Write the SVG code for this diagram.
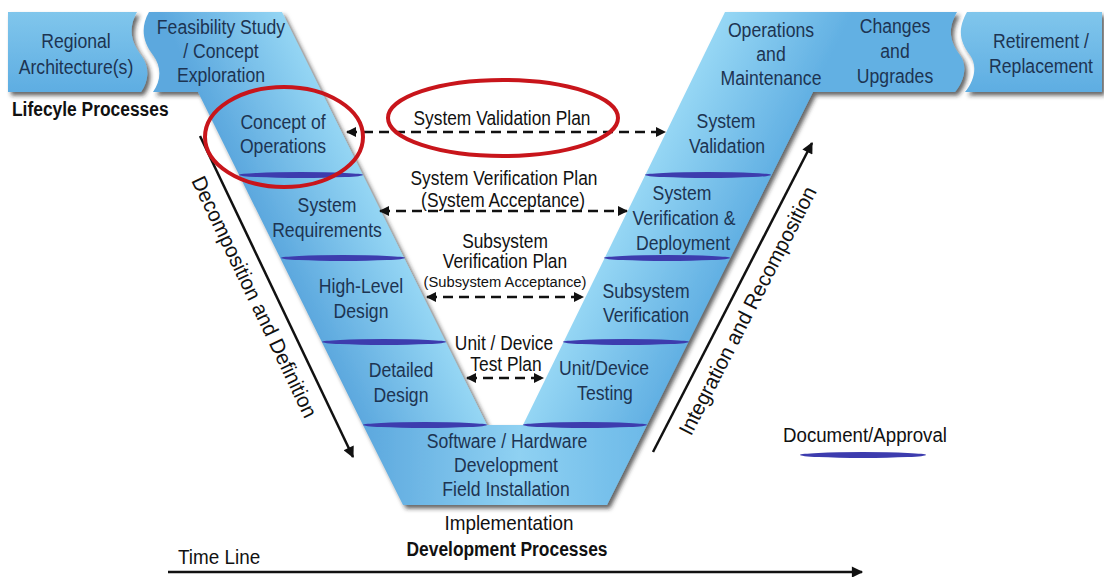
<svg xmlns="http://www.w3.org/2000/svg" width="1104" height="577" viewBox="0 0 1104 577">
<defs>
<style>
.lb{font-family:"Liberation Sans",Arial,sans-serif;font-size:21px;fill:#1d3452;text-anchor:middle}
.md{font-family:"Liberation Sans",Arial,sans-serif;font-size:19.5px;fill:#111;text-anchor:middle}
.sm{font-family:"Liberation Sans",Arial,sans-serif;font-size:15.5px;fill:#111;text-anchor:middle}
.bd{font-family:"Liberation Sans",Arial,sans-serif;font-size:20px;font-weight:bold;fill:#111}
.pl{font-family:"Liberation Sans",Arial,sans-serif;font-size:21px;fill:#111}
.doc{fill:#3d3cae}
.dash{stroke:#111;stroke-width:2.5;stroke-dasharray:10 6;fill:none;marker-start:url(#ah);marker-end:url(#ah)}
.solid{stroke:#111;stroke-width:2.5;fill:none;marker-end:url(#ah2)}
.red{fill:none;stroke:#c8151b;stroke-width:4}
</style>
<marker id="ah" viewBox="0 0 10 10" refX="9" refY="5" markerWidth="5" markerHeight="4" orient="auto-start-reverse" markerUnits="strokeWidth">
<path d="M0,0 L10,5 L0,10 Z" fill="#111"/>
</marker>
<marker id="ah2" viewBox="0 0 10 10" refX="9" refY="5" markerWidth="6.5" markerHeight="4.5" orient="auto" markerUnits="strokeWidth">
<path d="M0,0 L10,5 L0,10 Z" fill="#111"/>
</marker>
<linearGradient id="gTop" x1="0" y1="0" x2="0" y2="1">
<stop offset="0" stop-color="#80c6ec"/>
<stop offset="1" stop-color="#5eade2"/>
</linearGradient>
<linearGradient id="gL" gradientUnits="userSpaceOnUse" x1="301" y1="300" x2="401" y2="251">
<stop offset="0" stop-color="#5ca8de"/>
<stop offset="1" stop-color="#95d6f4"/>
</linearGradient>
<linearGradient id="gR" gradientUnits="userSpaceOnUse" x1="584" y1="300" x2="684" y2="350">
<stop offset="0" stop-color="#95d6f4"/>
<stop offset="1" stop-color="#62b0e3"/>
</linearGradient>
<linearGradient id="gB" gradientUnits="userSpaceOnUse" x1="363" y1="0" x2="647" y2="0">
<stop offset="0" stop-color="#5ca8de"/>
<stop offset="0.55" stop-color="#8fd1f2"/>
<stop offset="1" stop-color="#6cb9e8"/>
</linearGradient>
<filter id="sh" x="-5%" y="-5%" width="110%" height="115%">
<feDropShadow dx="3" dy="3.5" stdDeviation="2" flood-color="#222" flood-opacity="0.7"/>
</filter>
</defs>
<rect width="1104" height="577" fill="#fff"/>

<g id="v-shape" filter="url(#sh)">
<path d="M8,12 L137,12 C128,28 131,42 141,55 C150,67 149,81 141,92 L8,92 Z" fill="url(#gTop)"/>
<path d="M149,12 L282,12 L487,425 L363,425 L198,92 L153,92 C161,81 162,67 153,55 C143,42 140,28 149,12 Z" fill="url(#gL)"/>
<path d="M725,12 L957,12 C947,30 950,42 960,55 C968,66 964,82 955,92 L813,92 L647,425 L523,425 Z" fill="url(#gR)"/>
<path d="M967,12 L1102,12 L1102,92 L965,92 C974,82 978,66 970,55 C960,42 957,30 967,12 Z" fill="url(#gTop)"/>
<path d="M363,425 L647,425 L607,505 L403,505 Z" fill="url(#gB)"/>
</g>

<g id="document-approvals">
<ellipse class="doc" cx="301" cy="175" rx="62" ry="3"/>
<ellipse class="doc" cx="343" cy="258" rx="62" ry="3"/>
<ellipse class="doc" cx="384" cy="342" rx="62" ry="3"/>
<ellipse class="doc" cx="425" cy="425" rx="62" ry="3"/>
<ellipse class="doc" cx="708" cy="175" rx="63" ry="3"/>
<ellipse class="doc" cx="667" cy="258" rx="63" ry="3"/>
<ellipse class="doc" cx="626" cy="342" rx="63" ry="3"/>
<ellipse class="doc" cx="585" cy="425" rx="62" ry="3"/>
</g>

<g id="regional-architecture">
<text class="lb" transform="translate(76 48) scale(0.84 1)">Regional</text>
<text class="lb" transform="translate(76 74) scale(0.84 1)">Architecture(s)</text>
</g>
<g id="feasibility">
<text class="lb" transform="translate(221 34) scale(0.84 1)">Feasibility Study</text>
<text class="lb" transform="translate(221 58) scale(0.84 1)">/ Concept</text>
<text class="lb" transform="translate(221 82) scale(0.84 1)">Exploration</text>
</g>
<g id="concept-of-operations">
<text class="lb" transform="translate(283 129) scale(0.84 1)">Concept of</text>
<text class="lb" transform="translate(283 153) scale(0.84 1)">Operations</text>
</g>
<g id="system-requirements">
<text class="lb" transform="translate(327 212) scale(0.84 1)">System</text>
<text class="lb" transform="translate(327 237) scale(0.84 1)">Requirements</text>
</g>
<g id="high-level-design">
<text class="lb" transform="translate(361 293) scale(0.84 1)">High-Level</text>
<text class="lb" transform="translate(361 318) scale(0.84 1)">Design</text>
</g>
<g id="detailed-design">
<text class="lb" transform="translate(401 377) scale(0.84 1)">Detailed</text>
<text class="lb" transform="translate(401 402) scale(0.84 1)">Design</text>
</g>
<g id="implementation">
<text class="lb" transform="translate(507 448) scale(0.84 1)">Software / Hardware</text>
<text class="lb" transform="translate(506 472) scale(0.84 1)">Development</text>
<text class="lb" transform="translate(506 496) scale(0.84 1)">Field Installation</text>
</g>
<g id="system-validation">
<text class="lb" transform="translate(726 128) scale(0.84 1)">System</text>
<text class="lb" transform="translate(727 153) scale(0.84 1)">Validation</text>
</g>
<g id="system-verification">
<text class="lb" transform="translate(682 200) scale(0.84 1)">System</text>
<text class="lb" transform="translate(684 225) scale(0.84 1)">Verification &amp;</text>
<text class="lb" transform="translate(683 250) scale(0.84 1)">Deployment</text>
</g>
<g id="subsystem-verification">
<text class="lb" transform="translate(646 298) scale(0.84 1)">Subsystem</text>
<text class="lb" transform="translate(646 322) scale(0.84 1)">Verification</text>
</g>
<g id="unit-device-testing">
<text class="lb" transform="translate(604 375) scale(0.84 1)">Unit/Device</text>
<text class="lb" transform="translate(605 400) scale(0.84 1)">Testing</text>
</g>
<g id="operations-maintenance">
<text class="lb" transform="translate(771 37) scale(0.84 1)">Operations</text>
<text class="lb" transform="translate(771 61) scale(0.84 1)">and</text>
<text class="lb" transform="translate(771 85) scale(0.84 1)">Maintenance</text>
</g>
<g id="changes-upgrades">
<text class="lb" transform="translate(895 33) scale(0.84 1)">Changes</text>
<text class="lb" transform="translate(895 58) scale(0.84 1)">and</text>
<text class="lb" transform="translate(895 83) scale(0.84 1)">Upgrades</text>
</g>
<g id="retirement">
<text class="lb" transform="translate(1041 48) scale(0.84 1)">Retirement /</text>
<text class="lb" transform="translate(1041 73) scale(0.84 1)">Replacement</text>
</g>

<g id="connectors">
<line class="dash" x1="347" y1="132" x2="665" y2="132"/>
<line class="dash" x1="380" y1="211" x2="627" y2="211"/>
<line class="dash" x1="427" y1="297" x2="583" y2="297"/>
<line class="dash" x1="467" y1="378" x2="543" y2="378"/>
<line class="solid" x1="200" y1="136" x2="353" y2="457"/>
<line class="solid" x1="653" y1="452" x2="812" y2="143"/>
<line class="solid" x1="168" y1="572" x2="862" y2="572"/>
</g>

<g id="plan-labels">
<text class="md" transform="translate(502 125) scale(0.89 1)">System Validation Plan</text>
<text class="md" transform="translate(504 185) scale(0.89 1)">System Verification Plan</text>
<text class="md" transform="translate(503 207) scale(0.89 1)">(System Acceptance)</text>
<text class="md" transform="translate(505 248) scale(0.89 1)">Subsystem</text>
<text class="md" transform="translate(505 268) scale(0.89 1)">Verification Plan</text>
<text class="sm" transform="translate(505 287) scale(0.95 1)">(Subsystem Acceptance)</text>
<text class="md" transform="translate(504 350) scale(0.89 1)">Unit / Device</text>
<text class="md" transform="translate(506 371) scale(0.89 1)">Test Plan</text>
</g>

<g id="axis-labels">
<text class="pl" text-anchor="middle" transform="translate(248 300) rotate(64.5) scale(0.97 1)">Decomposition and Definition</text>
<text class="pl" text-anchor="middle" transform="translate(754 314) rotate(-62.8) scale(0.97 1)">Integration and Recomposition</text>
<text class="bd" transform="translate(12 116) scale(0.87 1)">Lifecyle Processes</text>
<text class="pl" text-anchor="middle" transform="translate(509 530) scale(0.9 1)">Implementation</text>
<text class="bd" text-anchor="middle" transform="translate(507 556) scale(0.87 1)">Development Processes</text>
<text class="pl" transform="translate(178 564) scale(0.9 1)">Time Line</text>
</g>

<g id="legend">
<text class="pl" text-anchor="middle" transform="translate(865 442) scale(0.89 1)">Document/Approval</text>
<ellipse class="doc" cx="863" cy="455" rx="63" ry="3"/>
</g>

<g id="highlights">
<ellipse class="red" cx="284" cy="137" rx="79" ry="50"/>
<ellipse class="red" cx="503" cy="118" rx="115" ry="38"/>
</g>
</svg>
